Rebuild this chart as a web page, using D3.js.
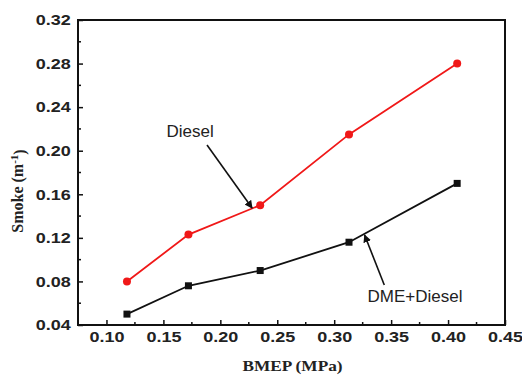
<!DOCTYPE html>
<html>
<head>
<meta charset="utf-8">
<script src="https://cdn.jsdelivr.net/npm/d3@7"></script>
<style>
  body { margin: 0; background: #fff; }
  svg { display: block; }
</style>
</head>
<body>
<div class="chart"></div>
<script>
// data
const bmep = [0.118, 0.172, 0.235, 0.313, 0.408];
const diesel = [0.080, 0.123, 0.150, 0.215, 0.280];
const dmeDiesel = [0.050, 0.076, 0.090, 0.116, 0.170];
const xTicks = [0.10, 0.15, 0.20, 0.25, 0.30, 0.35, 0.40, 0.45];
const yTicks = [0.04, 0.08, 0.12, 0.16, 0.20, 0.24, 0.28, 0.32];

const WIDTH = 522, HEIGHT = 376;
const MARGINS = { top: 20, right: 17, bottom: 51, left: 78 };

const svg = d3.select(".chart").append("svg")
    .attr("width", WIDTH)
    .attr("height", HEIGHT);

const xRange = d3.scaleLinear()
    .domain([0.075, 0.45])
    .range([MARGINS.left, WIDTH - MARGINS.right]);
const yRange = d3.scaleLinear()
    .domain([0.04, 0.32])
    .range([HEIGHT - MARGINS.bottom, MARGINS.top]);

const x0 = MARGINS.left, x1 = WIDTH - MARGINS.right;
const y0 = HEIGHT - MARGINS.bottom, y1 = MARGINS.top;

// minor ticks (inside)
const xMinor = d3.range(0.075, 0.451, 0.025).filter(v => Math.abs((v * 40) % 2 - 1) < 0.01);
const yMinor = d3.range(0.06, 0.32, 0.04);

// x axis (ticks point inward)
const xAxis = svg.append("g")
    .attr("transform", "translate(0," + y0 + ")")
    .call(d3.axisBottom(xRange).tickValues(xTicks).tickFormat(d3.format(".2f")).tickSize(-5).tickPadding(14));
xAxis.select(".domain").remove();
xAxis.selectAll("line").attr("stroke", "#111").attr("stroke-width", 1.5);
xAxis.selectAll("text")
    .style("font-family", "Arial, 'Liberation Sans', sans-serif")
    .style("font-weight", "bold")
    .style("font-size", "15px")
    .attr("fill", "#222")
    .attr("transform", "scale(1.2,1)")
    .attr("dy", "0.2em");

svg.selectAll(".x-minor")
    .data(xMinor)
    .enter().append("line")
    .attr("class", "x-minor")
    .attr("x1", d => xRange(d)).attr("x2", d => xRange(d))
    .attr("y1", y0).attr("y2", y0 - 3)
    .attr("stroke", "#111").attr("stroke-width", 1.5);

// y axis
const yAxis = svg.append("g")
    .attr("transform", "translate(" + x0 + ",0)")
    .call(d3.axisLeft(yRange).tickValues(yTicks).tickFormat(d3.format(".2f")).tickSize(-5).tickPadding(6));
yAxis.select(".domain").remove();
yAxis.selectAll("line").attr("stroke", "#111").attr("stroke-width", 1.5);
yAxis.selectAll("text")
    .style("font-family", "Arial, 'Liberation Sans', sans-serif")
    .style("font-weight", "bold")
    .style("font-size", "15px")
    .attr("fill", "#222")
    .attr("transform", "scale(1.2,1)");

svg.selectAll(".y-minor")
    .data(yMinor)
    .enter().append("line")
    .attr("class", "y-minor")
    .attr("x1", x0).attr("x2", x0 + 3)
    .attr("y1", d => yRange(d)).attr("y2", d => yRange(d))
    .attr("stroke", "#111").attr("stroke-width", 1.5);

// frame
svg.append("rect")
    .attr("x", x0).attr("y", y1)
    .attr("width", x1 - x0).attr("height", y0 - y1)
    .attr("fill", "none")
    .attr("stroke", "#111")
    .attr("stroke-width", 2);

// axis titles
svg.append("text")
    .attr("transform", "translate(" + ((x0 + x1) / 2 + 1) + "," + (HEIGHT - 5) + ") scale(1.15,1)")
    .attr("text-anchor", "middle")
    .style("font-family", "'Liberation Serif', 'Times New Roman', serif")
    .style("font-weight", "bold")
    .style("font-size", "15px")
    .attr("fill", "#222")
    .text("BMEP (MPa)");

const yTitle = svg.append("text")
    .attr("transform", "translate(23,191) rotate(-90)")
    .attr("text-anchor", "middle")
    .style("font-family", "'Liberation Serif', 'Times New Roman', serif")
    .style("font-weight", "bold")
    .style("font-size", "16px")
    .attr("fill", "#222");
yTitle.append("tspan").text("Smoke (m");
yTitle.append("tspan").attr("dy", "-0.45em").style("font-size", "11px").text("-1");
yTitle.append("tspan").attr("dy", "0.45em").text(")");

// series
const series = [
    { name: "Diesel", values: diesel, color: "#f01818", marker: "circle" },
    { name: "DME+Diesel", values: dmeDiesel, color: "#111", marker: "square" }
];

const lineFunc = d3.line()
    .x(d => xRange(d[0]))
    .y(d => yRange(d[1]));

series.forEach(function (s) {
    const pts = bmep.map((b, i) => [b, s.values[i]]);
    svg.append("path")
        .attr("d", lineFunc(pts))
        .attr("fill", "none")
        .attr("stroke", s.color)
        .attr("stroke-width", 1.8);
    if (s.marker === "circle") {
        svg.selectAll(".dot-" + s.name)
            .data(pts).enter().append("circle")
            .attr("cx", d => xRange(d[0]))
            .attr("cy", d => yRange(d[1]))
            .attr("r", 4)
            .attr("fill", s.color);
    } else {
        svg.selectAll(".sq")
            .data(pts).enter().append("rect")
            .attr("x", d => xRange(d[0]) - 3.5)
            .attr("y", d => yRange(d[1]) - 3.5)
            .attr("width", 7).attr("height", 7)
            .attr("fill", s.color);
    }
});

// annotations (data space)
const notes = [
    { text: "Diesel", tx: 0.1527, ty: 0.2126, from: [0.1883, 0.2052], to: [0.2279, 0.1474] },
    { text: "DME+Diesel", tx: 0.3293, ty: 0.0614, from: [0.3440, 0.0767], to: [0.3267, 0.1226] }
];

svg.append("defs").append("marker")
    .attr("id", "arrow")
    .attr("viewBox", "0 0 10 10")
    .attr("refX", 9).attr("refY", 5)
    .attr("markerWidth", 5).attr("markerHeight", 5)
    .attr("orient", "auto")
    .append("path")
    .attr("d", "M0,0 L10,5 L0,10 z")
    .attr("fill", "#111");

notes.forEach(function (n) {
    svg.append("text")
        .attr("x", xRange(n.tx))
        .attr("y", yRange(n.ty))
        .style("font-family", "Arial, 'Liberation Sans', sans-serif")
        .style("font-size", "17px")
        .attr("fill", "#222")
        .text(n.text);
    svg.append("line")
        .attr("x1", xRange(n.from[0])).attr("y1", yRange(n.from[1]))
        .attr("x2", xRange(n.to[0])).attr("y2", yRange(n.to[1]))
        .attr("stroke", "#111")
        .attr("stroke-width", 1.6)
        .attr("marker-end", "url(#arrow)");
});
</script>
</body>
</html>
